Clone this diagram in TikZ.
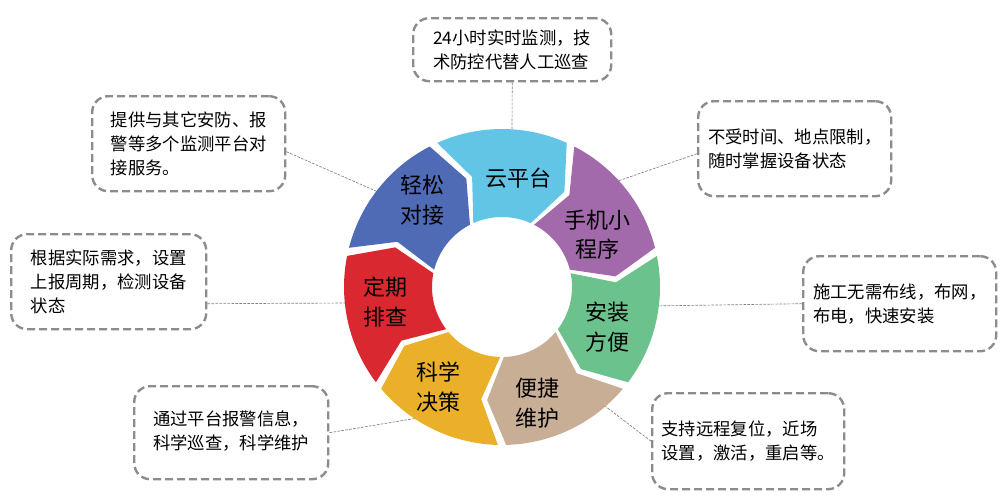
\documentclass[tikz,border=0pt]{standalone}
\usepackage{fontspec}
\setmainfont{Noto Sans CJK SC}
\usetikzlibrary{calc}
\begin{document}
\begin{tikzpicture}[x=0.75pt,y=-0.75pt,
  callout/.style={draw=gray!90,dashed,line width=1.8pt,dash pattern=on 6pt off 3pt,rounded corners=12pt,align=left,inner sep=0pt},
  link/.style={draw=gray,dashed,line width=0.5pt,dash pattern=on 2pt off 1pt},
  segtext/.style={align=center,font=\fontsize{16.5}{22}\selectfont},
  btext/.style={font=\fontsize{13}{18}\selectfont,align=left}]
\useasboundingbox (0,0) rectangle (1006,500);
\def\cx{502}\def\cy{287}\def\Ro{158}\def\Ri{70}\def\Rm{114}
\newcommand\ringseg[3]{% color, center angle, name
  \pgfmathsetmacro\aA{#2+24.2}\pgfmathsetmacro\aB{#2-24.2}
  \fill[#1] plot[domain=\aA:\aB,samples=25] ({\cx+\Ro*cos(\x)},{\cy-\Ro*sin(\x)})
    -- ({\cx+\Rm*cos(\aB-9)},{\cy-\Rm*sin(\aB-9)})
    -- plot[domain=\aB:\aA,samples=25] ({\cx+\Ri*cos(\x)},{\cy-\Ri*sin(\x)})
    -- ({\cx+\Rm*cos(\aA-9)},{\cy-\Rm*sin(\aA-9)}) -- cycle;
  \coordinate (#3) at ({\cx+112*cos(#2-8)},{\cy-112*sin(#2-8)});
}
\definecolor{cCy}{HTML}{63C5E6}\definecolor{cPu}{HTML}{A26AAA}
\definecolor{cGr}{HTML}{6CC28C}\definecolor{cBr}{HTML}{C9AE96}
\definecolor{cYe}{HTML}{EBB02A}\definecolor{cRe}{HTML}{D9282F}
\definecolor{cBl}{HTML}{506BB5}
% callouts
\node[callout,minimum width=198*0.75pt,minimum height=63*0.75pt,anchor=north west] (b1) at (412,17) {};
\node[btext] (l1) at (b1.center) {24小时实时监测，技\\术防控代替人工巡查};
\node[callout,minimum width=193*0.75pt,minimum height=95*0.75pt,anchor=north west] (b2) at (91,95) {};
\node[btext] (l2) at (b2.center) {提供与其它安防、报\\警等多个监测平台对\\接服务。};
\node[callout,minimum width=195*0.75pt,minimum height=95*0.75pt,anchor=north west] (b3) at (10,233) {};
\node[btext] (l3) at (b3.center) {根据实际需求，设置\\上报周期，检测设备\\状态};
\node[callout,minimum width=194*0.75pt,minimum height=93*0.75pt,anchor=north west] (b4) at (133,385) {};
\node[btext] (l4) at ($(b4.center)+(0,-2)$) {通过平台报警信息，\\科学巡查，科学维护};
\node[callout,minimum width=192*0.75pt,minimum height=96*0.75pt,anchor=north west] (b5) at (651,392) {};
\node[btext] (l5) at (b5.center) {支持远程复位，近场\\设置，激活，重启等。};
\node[callout,minimum width=193*0.75pt,minimum height=95*0.75pt,anchor=north west] (b6) at (697,100) {};
\node[btext] (l6) at (b6.center) {不受时间、地点限制，\\随时掌握设备状态};
\node[callout,minimum width=193*0.75pt,minimum height=95*0.75pt,anchor=north west] (b7) at (802,255) {};
\node[btext] (l7) at (b7.center) {施工无需布线，布网，\\布电，快速安装};
\coordinate (e1) at (512,140); \coordinate (e2) at (385,195);
\coordinate (e3) at (350,303); \coordinate (e4) at (418,418);
\coordinate (e5) at (597,400); \coordinate (e6) at (612,183);
\coordinate (e7) at (650,306);
\draw[link] (b1.south) -- (e1);
\draw[link] ($(b2.east)+(0,8)$) -- (e2);
\draw[link] ($(b3.east)+(0,22)$) -- (e3);
\draw[link] (b4.east) -- (e4);
\draw[link] (b5.west) -- (e5);
\draw[link] ($(b6.west)+(0,5)$) -- (e6);
\draw[link] (b7.west) -- (e7);
% ring on top of the links
\ringseg{cCy}{90}{p1}
\ringseg{cPu}{38.57}{p2}
\ringseg{cGr}{-12.86}{p3}
\ringseg{cBr}{-64.29}{p4}
\ringseg{cYe}{-115.71}{p5}
\ringseg{cRe}{-167.14}{p6}
\ringseg{cBl}{141.43}{p7}
\node[segtext] (t1) at (518,178) {云平台};
\node[segtext] (t2) at (597,235) {手机小\\程序};
\node[segtext] (t3) at (607,327) {安装\\方便};
\node[segtext] (t4) at (537,403) {便捷\\维护};
\node[segtext] (t5) at (438,387) {科学\\决策};
\node[segtext] (t6) at (385,302) {定期\\排查};
\node[segtext] (t7) at (422,200) {轻松\\对接};
\end{tikzpicture}
\end{document}
